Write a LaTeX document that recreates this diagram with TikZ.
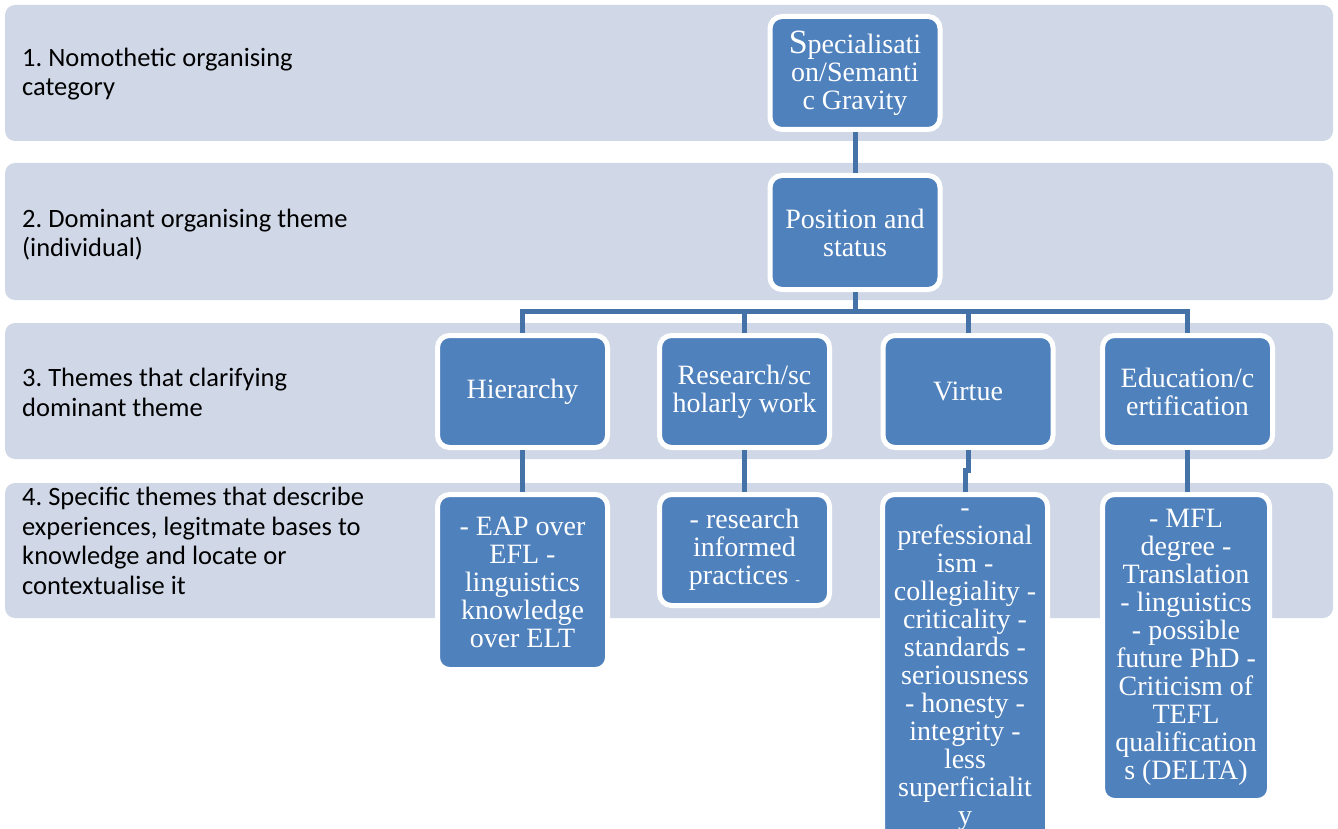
\documentclass[tikz,border=0pt]{standalone}
\usepackage{fontspec}
\setmainfont{Liberation Serif}
\newfontfamily\lvlfont{Carlito}
\definecolor{bandfill}{RGB}{208,216,232}
\definecolor{boxfill}{RGB}{79,129,189}
\definecolor{linkcol}{RGB}{69,114,167}

\begin{document}
\begin{tikzpicture}[x=1pt,y=-1pt,
  band/.style={fill=bandfill,rounded corners=10pt},
  lvl/.style={anchor=base west,align=left,inner sep=0pt,font=\lvlfont\fontsize{26.5}{29.5}\selectfont\frenchspacing},
  theme/.style={fill=boxfill,draw=white,line width=5pt,rounded corners=12pt,text=white,align=center,
    inner sep=0pt,outer sep=2.5pt,minimum width=170pt,font=\fontsize{28}{28}\selectfont},
  link/.style={draw=linkcol,line width=5pt}]
\useasboundingbox (0,0) rectangle (1338,829);
% the four levels
\fill[band] (5,5) rectangle (1333,141);
\fill[band] (5,163) rectangle (1333,300);
\fill[band] (5,323) rectangle (1333,459);
\fill[band] (5,483) rectangle (1333,618);
\node[lvl] (l1) at (22,96) {1. Nomothetic organising\\category};
\node[lvl] (l2) at (22,256.5) {2. Dominant organising theme\\(individual)};
\node[lvl] (l3) at (22,416) {3. Themes that clarifying\\dominant theme};
\node[lvl] (l4) at (22,594) {4. Specific themes that describe\\experiences, legitmate bases to\\knowledge and locate or\\contextualise it};
% boxes
\node[theme,minimum height=113pt] (spec) at (855,73) {{\fontsize{34}{28}\selectfont S}pecialisati\\on/Semanti\\c Gravity};
\node[theme,minimum height=114pt] (pos) at (855,232.5) {Position and\\status};
\node[theme,minimum height=112pt] (hier) at (522.5,391.5) {Hierarchy};
\node[theme,minimum height=112pt] (res) at (744.5,391.5) {Research/sc\\holarly work};
\node[theme,minimum height=112pt] (virt) at (968,391.5) {Virtue};
\node[theme,minimum height=112pt] (edu) at (1187.5,391.5) {Education/c\\ertification};
\node[theme,minimum height=175pt] (hierd) at (522.5,582) {- EAP over\\EFL -\\linguistics\\knowledge\\over ELT};
\node[theme,minimum height=111pt] (resd) at (744.5,550) {- research\\informed\\practices {\fontsize{14}{14}\selectfont -}};
\node[theme,minimum width=165pt,minimum height=351pt] (virtd) at (965,670) {-\\prefessional\\ism -\\collegiality -\\criticality -\\standards -\\seriousness\\- honesty -\\integrity -\\less\\superficialit\\y};
\node[theme,minimum width=167pt,minimum height=306pt] (edud) at (1186,647.5) {- MFL\\degree -\\Translation\\- linguistics\\- possible\\future PhD -\\Criticism of\\TEFL\\qualification\\s (DELTA)};
% connectors
\draw[link] (spec.south) -- (pos.north);
\draw[link] (pos.south) -- ++(0,19.5) coordinate (bar);
\draw[link] (hier.north) |- (bar) -| (edu.north);
\draw[link] (res.north) -- (res.north |- bar);
\draw[link] (virt.north) -- (virt.north |- bar);
\draw[link] (hier) -- (hierd);
\draw[link] (res) -- (resd);
\draw[link] (virt.south) -- ++(0,20) -| (virtd.north);
\draw[link] (edu.south) -- (edu.south |- edud.north);
\end{tikzpicture}
\end{document}
